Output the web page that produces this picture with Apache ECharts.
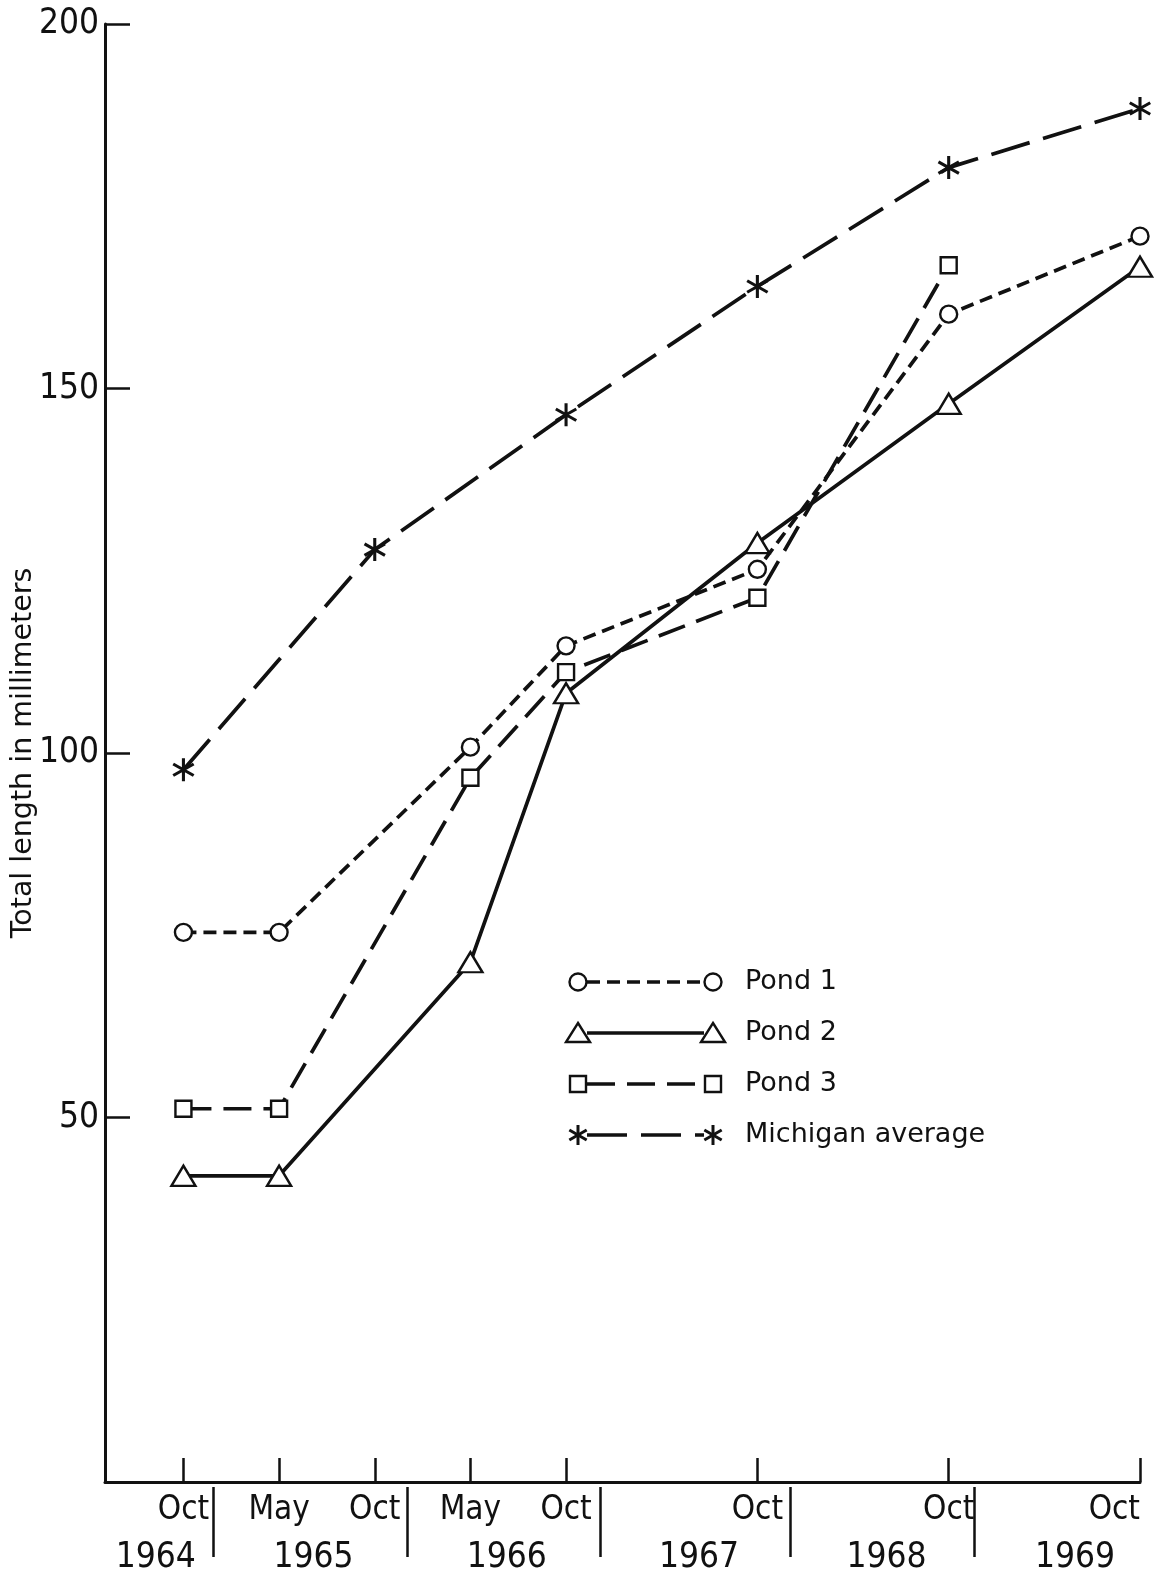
<!DOCTYPE html>
<html>
<head>
<meta charset="utf-8">
<script src="https://cdn.jsdelivr.net/npm/echarts@6/dist/echarts.min.js"></script>
<style>
html,body{margin:0;padding:0;background:#fff;overflow:hidden;}
#chart{width:1163px;height:1581px;}
</style>
</head>
<body>
<div id="chart"></div>
<script>
// ---- Data (x = half-year step index from Oct 1964) ----
const monthPos = [0, 1, 2, 3, 4, 6, 8, 10];
const monthLabels = ['Oct', 'May', 'Oct', 'May', 'Oct', 'Oct', 'Oct', 'Oct'];
const yearPos = [-0.29, 1.36, 3.38, 5.39, 7.35, 9.32];
const yearLabels = ['1964', '1965', '1966', '1967', '1968', '1969'];
const yearSeparators = [0.31, 2.34, 4.36, 6.34, 8.27];
const yTicks = [50, 100, 150, 200];

const pond1X = [0, 1, 3, 4, 6, 8, 10];
const pond1Y = [75.4, 75.4, 100.8, 114.7, 125.2, 160.2, 170.9];
const pond2X = [0, 1, 3, 4, 6, 8, 10];
const pond2Y = [42.0, 42.0, 71.3, 108.2, 128.8, 147.9, 166.7];
const pond3X = [0, 1, 3, 4, 6, 8];
const pond3Y = [51.2, 51.2, 96.6, 111.1, 121.3, 166.9];
const michX = [0, 2, 4, 6, 8, 10];
const michY = [97.7, 127.9, 146.4, 164.0, 180.3, 188.4];

const seriesNames = ['Pond 1', 'Pond 2', 'Pond 3', 'Michigan average'];
const yTitle = 'Total length in millimeters';

// ---- Styles ----
const INK = '#111';
const NARROW = "'Liberation Sans Narrow', 'DejaVu Sans Condensed', 'Liberation Sans', sans-serif";
const WIDE = "'DejaVu Sans', 'Liberation Sans', sans-serif";
const ASTERISK = 'path://M-1.3,-10L1.3,-10L1.3,10L-1.3,10Z M8.01,6.126L-9.31,-3.874L-8.01,-6.126L9.31,3.874Z M-9.31,3.874L8.01,-6.126L9.31,-3.874L-8.01,6.126Z';

function pairs(xs, ys) { return xs.map((x, i) => [x, ys[i]]); }

const dash1 = [13, 7], dash3 = [28, 12], dashM = [40, 14];
const LW = 3.7;

const chart = echarts.init(document.getElementById('chart'), null, {renderer: 'canvas'});

// legend drawn as graphic (marker-line-marker)
const legX1 = 578, legX2 = 713, legTextX = 745;
const legRows = [1, 2, 3, 4].map(i => 982 + (i - 1) * 51);
function legendMarker(kind, cx, cy) {
  if (kind === 'circle') return {type: 'circle', shape: {cx: cx, cy: cy, r: 8.5}, style: {fill: '#fff', stroke: INK, lineWidth: 2.4}, z: 10};
  if (kind === 'triangle') return {type: 'polygon', shape: {points: [[cx, cy - 10], [cx + 12, cy + 9], [cx - 12, cy + 9]]}, style: {fill: '#fff', stroke: INK, lineWidth: 2.4}, z: 10};
  if (kind === 'rect') return {type: 'rect', shape: {x: cx - 8, y: cy - 8, width: 16, height: 16}, style: {fill: '#fff', stroke: INK, lineWidth: 2.4}, z: 10};
  const arms = [];
  for (let k = 0; k < 3; k++) {
    const a = Math.PI / 2 + k * Math.PI / 3;
    arms.push({type: 'line', shape: {x1: cx - 10 * Math.cos(a), y1: cy - 10 * Math.sin(a), x2: cx + 10 * Math.cos(a), y2: cy + 10 * Math.sin(a)}, style: {stroke: INK, lineWidth: 3}, z: 10});
  }
  return {type: 'group', children: arms};
}
const legKinds = ['circle', 'triangle', 'rect', 'asterisk'];
const legDash = [dash1, null, dash3, dashM];
const graphics = [];
legKinds.forEach((k, i) => {
  const y = legRows[i];
  graphics.push({type: 'line', shape: {x1: legX1 + 9, y1: y, x2: legX2 - 9, y2: y}, style: {stroke: INK, lineWidth: LW, lineDash: legDash[i] || null}, z: 5});
  graphics.push(legendMarker(k, legX1, y));
  graphics.push(legendMarker(k, legX2, y));
  graphics.push({type: 'text', x: legTextX, y: y, style: {text: seriesNames[i], fill: INK, font: '27px ' + WIDE, textAlign: 'left', verticalAlign: 'middle', textVerticalAlign: 'middle'}, z: 10});
});

const option = {
  backgroundColor: '#fff',
  animation: false,
  grid: {left: 105, right: 23, top: 24, bottom: 99, containLabel: false, outerBoundsMode: 'none'},
  xAxis: [
    {
      type: 'value', min: -0.82, max: 10, position: 'bottom',
      axisLine: {show: true, onZero: false, lineStyle: {color: INK, width: 3}},
      axisTick: {show: true, inside: true, length: 24, customValues: monthPos, lineStyle: {color: INK, width: 2.5}},
      axisLabel: {show: true, customValues: monthPos, margin: 12, color: INK, fontSize: 33, fontFamily: NARROW,
        alignMaxLabel: 'right',
        formatter: v => { const i = monthPos.indexOf(Math.round(v)); return i >= 0 ? monthLabels[i] : ''; }},
      splitLine: {show: false}
    },
    {
      type: 'value', min: -0.82, max: 10, position: 'bottom', offset: 5,
      axisLine: {show: false, onZero: false},
      axisTick: {show: true, inside: false, length: 70, customValues: yearSeparators, lineStyle: {color: INK, width: 2.5}},
      axisLabel: {show: true, customValues: yearPos, margin: 53, color: INK, fontSize: 35, fontFamily: NARROW,
        formatter: v => { let best = 0; yearPos.forEach((p, i) => { if (Math.abs(p - v) < Math.abs(yearPos[best] - v)) best = i; }); return yearLabels[best]; }},
      splitLine: {show: false}
    }
  ],
  yAxis: {
    type: 'value', min: 0, max: 200,
    name: yTitle, nameLocation: 'middle', nameRotate: 90, nameGap: 67, nameMoveOverlap: false,
    nameTextStyle: {color: INK, fontSize: 28.5, fontFamily: WIDE},
    axisLine: {show: true, onZero: false, lineStyle: {color: INK, width: 3}},
    axisTick: {show: true, inside: true, length: 25, customValues: yTicks, lineStyle: {color: INK, width: 2.5}},
    axisLabel: {show: true, customValues: yTicks, margin: 6, color: INK, fontSize: 35, fontFamily: NARROW},
    splitLine: {show: false}
  },
  series: [
    {
      name: seriesNames[0], type: 'line', data: pairs(pond1X, pond1Y), xAxisIndex: 0,
      symbol: 'circle', symbolSize: 17,
      itemStyle: {color: '#fff', borderColor: INK, borderWidth: 2.4},
      lineStyle: {color: INK, width: LW, type: dash1}, z: 3
    },
    {
      name: seriesNames[1], type: 'line', data: pairs(pond2X, pond2Y), xAxisIndex: 0,
      symbol: 'triangle', symbolSize: [24, 20],
      itemStyle: {color: '#fff', borderColor: INK, borderWidth: 2.4},
      lineStyle: {color: INK, width: LW, type: 'solid'}, z: 3
    },
    {
      name: seriesNames[2], type: 'line', data: pairs(pond3X, pond3Y), xAxisIndex: 0,
      symbol: 'rect', symbolSize: 16,
      itemStyle: {color: '#fff', borderColor: INK, borderWidth: 2.4},
      lineStyle: {color: INK, width: LW, type: dash3}, z: 3
    },
    {
      name: seriesNames[3], type: 'line', data: pairs(michX, michY), xAxisIndex: 0,
      symbol: ASTERISK, symbolSize: [22, 23],
      itemStyle: {color: INK, borderWidth: 0},
      lineStyle: {color: INK, width: LW, type: dashM}, z: 3
    }
  ],
  graphic: graphics
};
chart.setOption(option);
</script>
</body>
</html>
